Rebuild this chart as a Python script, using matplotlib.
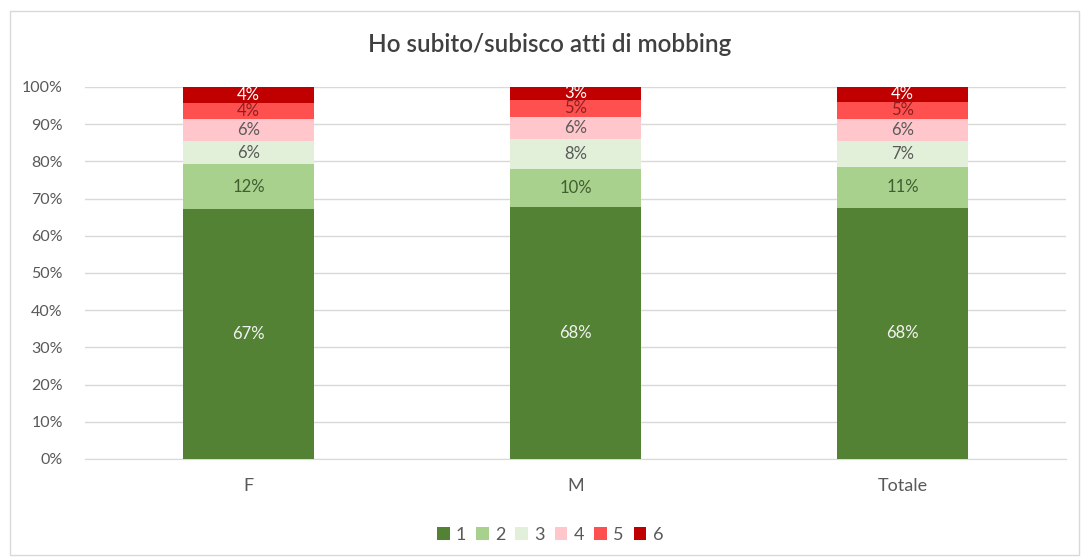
import matplotlib
matplotlib.use("Agg")
import matplotlib.pyplot as plt
from matplotlib.patches import Rectangle
import numpy as np

plt.rcParams['font.family'] = ['Lato', 'DejaVu Sans']

categories = ["F", "M", "Totale"]
series_names = ["1", "2", "3", "4", "5", "6"]
s1 = [67.3, 67.8, 67.6]
s2 = [11.9, 10.1, 10.8]
s3 = [6.3, 8.0, 7.0]
s4 = [5.8, 6.0, 6.0]
s5 = [4.3, 4.7, 4.6]
s6 = [4.4, 3.4, 4.0]
series = [s1, s2, s3, s4, s5, s6]
colors = ["#548235", "#A9D18E", "#E2F0D9", "#FFC7CC", "#FF5050", "#C00000"]
label_colors = ["#F2F2F2", "#3F5F2F", "#595959", "#595959", "#8B2020", "#FFFFFF"]
yticks = [0, 10, 20, 30, 40, 50, 60, 70, 80, 90, 100]
title = "Ho subito/subisco atti di mobbing"

W, H = 1081, 559
fig = plt.figure(figsize=(W / 100, H / 100), dpi=100)
ax = fig.add_axes([85 / W, 1 - 459 / H, (1066 - 85) / W, (459 - 87) / H])

x = np.arange(len(categories))
bottom = np.zeros(len(categories))
for vals, col, lc, name in zip(series, colors, label_colors, series_names):
    vals = np.array(vals)
    ax.bar(x, vals, 0.4, bottom=bottom, color=col, label=name, zorder=3)
    for xi, b, v in zip(x, bottom, vals):
        ax.text(xi, b + v / 2, f"{round(v):.0f}%", ha="center", va="center",
                fontsize=12, color=lc, zorder=4)
    bottom += vals

ax.set_xlim(-0.5, len(categories) - 0.5)
ax.set_ylim(0, 100)
ax.set_yticks(yticks)
ax.set_yticklabels([f"{t}%" for t in yticks])
ax.set_xticks(x)
ax.set_xticklabels(categories)
ax.tick_params(axis="both", length=0, colors="#595959")
ax.tick_params(axis="y", pad=16, labelsize=11.5)
ax.tick_params(axis="x", pad=14, labelsize=13)
ax.yaxis.grid(True, color="#D9D9D9", linewidth=1, zorder=0)
for sp in ax.spines.values():
    sp.set_visible(False)
ax.spines["bottom"].set_visible(True)
ax.spines["bottom"].set_color("#D9D9D9")

fig.text(550 / W, 1 - 45 / H, title, ha="center", va="center",
         fontsize=17.5, fontweight="semibold", color="#404040")

leg = fig.legend(loc="center", bbox_to_anchor=(550 / W, 1 - 535 / H), ncol=6,
                 frameon=False, fontsize=13, handlelength=0.7, handleheight=0.7,
                 handletextpad=0.35, columnspacing=0.55)
for t in leg.get_texts():
    t.set_color("#595959")

fig.patches.append(Rectangle((10 / W, 1 - 555 / H), (1079 - 10) / W, (555 - 11) / H,
                             transform=fig.transFigure, fill=False,
                             edgecolor="#D9D9D9", linewidth=1))

fig.savefig("out.png", dpi=100)
